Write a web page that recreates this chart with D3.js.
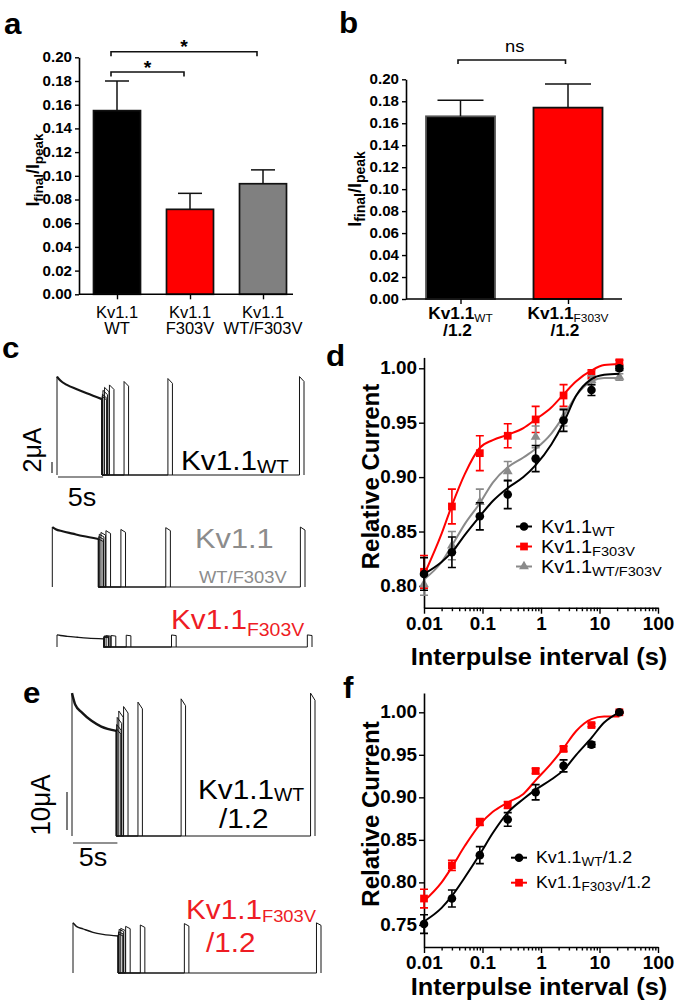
<!DOCTYPE html>
<html><head><meta charset="utf-8">
<script src="https://cdn.jsdelivr.net/npm/d3@7"></script>
<style>body{margin:0;background:#fff}svg{display:block}</style>
</head><body>
<svg id="fig" width="675" height="1008"></svg>
<script>
// ================= DATA =================
// Panel a
const catsA = ["WT", "F303V", "WT/F303V"];
const valuesA = [0.155, 0.0717, 0.0933];
const errorsA = [0.025, 0.0135, 0.0117];
const ticksA = [0, 0.02, 0.04, 0.06, 0.08, 0.10, 0.12, 0.14, 0.16, 0.18, 0.20];
const sigA = [{from: "WT", to: "WT/F303V", label: "*"}, {from: "WT", to: "F303V", label: "*"}];
// Panel b
const catsB = ["WT", "F303V"];
const valuesB = [0.1663, 0.1742];
const errorsB = [0.0147, 0.0215];
const ticksB = [0, 0.02, 0.04, 0.06, 0.08, 0.10, 0.12, 0.14, 0.16, 0.18, 0.20];
const sigB = [{from: "WT", to: "F303V", label: "ns"}];
// Panels d / f : recovery from inactivation
const intervals = [0.01, 0.03, 0.09, 0.27, 0.81, 2.43, 7.29, 21.87];
const dWT = [0.811, 0.831, 0.864, 0.884, 0.917, 0.952, 0.980, 1.000];
const dWTerr = [0.015, 0.014, 0.0125, 0.013, 0.012, 0.010, 0.005, 0.002];
const dF303V = [0.813, 0.873, 0.922, 0.938, 0.953, 0.975, 0.9945, 1.0055];
const dF303Verr = [0.015, 0.016, 0.016, 0.011, 0.012, 0.010, 0.004, 0.002];
const dHet = [0.8015, 0.837, 0.877, 0.9053, 0.937, 0.955, 0.989, 0.992];
const dHetErr = [0.010, 0.013, 0.012, 0.009, 0.010, 0.008, 0.004, 0.003];
const fitX = [0.01, 0.02, 0.03, 0.05, 0.09, 0.15, 0.27, 0.5, 0.81, 1.5, 2.43, 4, 7.29, 12, 21.87];
const dWTfit = [0.811, 0.822, 0.831, 0.847, 0.864, 0.878, 0.890, 0.900, 0.911, 0.930, 0.950, 0.975, 0.990, 0.994, 0.995];
const dF303Vfit = [0.810, 0.848, 0.874, 0.903, 0.927, 0.934, 0.939, 0.945, 0.953, 0.964, 0.976, 0.988, 0.998, 1.003, 1.004];
const dHetFit = [0.806, 0.822, 0.837, 0.857, 0.876, 0.895, 0.909, 0.918, 0.926, 0.940, 0.956, 0.975, 0.988, 0.991, 0.991];
const fWT = [0.751, 0.781, 0.832, 0.874, 0.906, 0.937, 0.962, 1.000];
const fWTerr = [0.011, 0.010, 0.010, 0.008, 0.009, 0.007, 0.003, 0.001];
const fF303V = [0.781, 0.820, 0.871, 0.891, 0.931, 0.957, 0.985, 1.000];
const fF303Verr = [0.011, 0.006, 0.004, 0.004, 0.003, 0.003, 0.002, 0.001];
const fWTfit = [0.754, 0.770, 0.784, 0.806, 0.833, 0.858, 0.882, 0.898, 0.909, 0.921, 0.932, 0.950, 0.970, 0.988, 1.000];
const fF303Vfit = [0.778, 0.800, 0.818, 0.843, 0.868, 0.883, 0.894, 0.904, 0.920, 0.940, 0.958, 0.978, 0.992, 0.995, 0.995];
const xTickLabels = ["0.01", "0.1", "1", "10", "100"];
const yTicksD = [0.80, 0.85, 0.90, 0.95, 1.00];
const yTicksF = [0.75, 0.80, 0.85, 0.90, 0.95, 1.00];
// Panels c / e : current traces (prepulse 5 s, test pulse 0.5 s after each interval)
const prepulseDur = 5, testDur = 0.5, testDecay = 0.95;
const decayT = [0, 0.37, 1.1, 2.2, 3.3, 5];
const tracesC = [
  {name: "WT", peakUA: 17.9, decay: [1, 0.959, 0.915, 0.871, 0.83, 0.77], test: [0.80, 0.82, 0.86, 0.89, 0.915, 0.95, 0.98, 1.0]},
  {name: "WT/F303V", peakUA: 10.9, decay: [1, 0.965, 0.93, 0.89, 0.85, 0.80], test: [0.80, 0.84, 0.88, 0.91, 0.94, 0.96, 0.99, 1.0]},
  {name: "F303V", peakUA: 2.2, decay: [1, 0.95, 0.88, 0.80, 0.73, 0.67], test: [0.81, 0.87, 0.92, 0.94, 0.95, 0.975, 0.995, 1.0]}
];
const tracesE = [
  {name: "WT/1.2", peakUA: 37.6, decay: [1, 0.918, 0.865, 0.806, 0.766, 0.736], test: [0.75, 0.78, 0.83, 0.875, 0.906, 0.937, 0.96, 1.0]},
  {name: "F303V/1.2", peakUA: 13.2, decay: [1, 0.93, 0.88, 0.81, 0.77, 0.74], test: [0.78, 0.82, 0.87, 0.89, 0.93, 0.957, 0.985, 1.0]}
];
const scaleBarC = {uA: 2, s: 5};
const scaleBarE = {uA: 10, s: 5};

// ================= STYLE / HELPERS =================
const FONT = "'Liberation Sans', Arial, Helvetica, sans-serif";
const SX = 1.08;
const RED = "#ff0000", GRAY = "#8a8a8a", TXTRED = "#ee1c24";
const svg = d3.select("#fig");
svg.append("rect").attr("width", 675).attr("height", 1008).attr("fill", "#fff");

function rich(g, x, y, parts, o) {
  const t = g.append("text")
    .attr("transform", `translate(${x},${y}) scale(${o.sx ?? SX},1)` + (o.rotate ? " rotate(-90)" : ""))
    .attr("text-anchor", o.anchor || "start")
    .attr("font-family", FONT).attr("font-size", o.size)
    .attr("font-weight", o.weight || "normal").attr("fill", o.color || "#000");
  let shift = 0;
  parts.forEach(p => {
    const seg = typeof p === "string" ? {t: p} : p;
    const s = t.append("tspan").text(seg.t);
    if (seg.size) s.attr("font-size", seg.size);
    if (seg.weight) s.attr("font-weight", seg.weight);
    const target = seg.dy || 0;
    if (target !== shift) { s.attr("dy", target - shift); shift = target; }
  });
  return t;
}
function styleAxis(g, size) {
  g.selectAll("path.domain").attr("stroke", "#000").attr("stroke-width", 1.6);
  g.selectAll(".tick line").attr("stroke", "#000").attr("stroke-width", 1.4);
  g.selectAll(".tick text").attr("font-family", FONT).attr("font-size", size)
    .attr("font-weight", "bold").attr("fill", "#000")
    .each(function () {
      const s = d3.select(this);
      const x = +s.attr("x") || 0, y = +s.attr("y") || 0;
      s.attr("x", 0).attr("y", 0).attr("transform", `translate(${x},${y}) scale(${SX},1)`);
    });
}
function panelLetter(x, y, l) {
  rich(svg, x, y, [l], {size: 29, weight: "bold"});
}

// ================= PANEL a =================
{
  const g = svg.append("g");
  const colors = ["#000000", RED, "#808080"];
  const x = d3.scalePoint().domain(catsA).range([117, 263]);
  const y = d3.scaleLinear().domain([0, 0.2]).range([294.3, 57.3]);
  const bw = 47;
  g.selectAll("rect.bar").data(catsA).join("rect")
    .attr("x", d => x(d) - bw / 2).attr("width", bw)
    .attr("y", (d, i) => y(valuesA[i])).attr("height", (d, i) => y(0) - y(valuesA[i]))
    .attr("fill", (d, i) => colors[i]).attr("stroke", "#111").attr("stroke-width", 1.7);
  const eb = g.selectAll("g.err").data(catsA).join("g").attr("stroke", "#111").attr("stroke-width", 1.5);
  eb.append("line").attr("x1", d => x(d)).attr("x2", d => x(d))
    .attr("y1", (d, i) => y(valuesA[i])).attr("y2", (d, i) => y(valuesA[i] + errorsA[i]));
  eb.append("line").attr("x1", d => x(d) - 12).attr("x2", d => x(d) + 12)
    .attr("y1", (d, i) => y(valuesA[i] + errorsA[i])).attr("y2", (d, i) => y(valuesA[i] + errorsA[i]));
  g.append("g").attr("transform", "translate(79,0)")
    .call(d3.axisLeft(y).tickValues(ticksA).tickFormat(d3.format(".2f")).tickSize(4).tickSizeOuter(0).tickPadding(3))
    .call(gg => styleAxis(gg, 14));
  const xa = g.append("g").attr("transform", `translate(0,${y(0)})`)
    .call(d3.axisBottom(x).tickSize(5).tickSizeOuter(0).tickFormat(""));
  xa.select("path.domain").attr("d", `M79,0H293`);
  styleAxis(xa, 14);
  catsA.forEach(c => {
    rich(g, x(c), 318, ["Kv1.1"], {size: 16.5, anchor: "middle", sx: 1.0});
    rich(g, x(c), 334, [c], {size: 16.5, anchor: "middle", sx: 1.0});
  });
  const levels = [51.7, 72];
  sigA.forEach((s, i) => {
    const x1 = x(s.from) - 6, x2 = x(s.to) - 6, yy = levels[i];
    g.append("path").attr("d", `M${x1},${yy + 4.5}V${yy}H${x2}V${yy + 4.5}`)
      .attr("fill", "none").attr("stroke", "#111").attr("stroke-width", 1.6);
    rich(g, (x1 + x2) / 2, yy + 1.5, [s.label], {size: 18, weight: "bold", anchor: "middle"});
  });
  rich(g, 39, 170, ["I", {t: "final", size: 13.5, dy: 4}, {t: "/I", dy: 0}, {t: "peak", size: 13.5, dy: 4}],
    {size: 17.5, weight: "bold", anchor: "middle", rotate: true, sx: 1.0});
  panelLetter(4, 34, "a");
}

// ================= PANEL b =================
{
  const g = svg.append("g");
  const x = d3.scalePoint().domain(catsB).range([460.5, 568]);
  const y = d3.scaleLinear().domain([0, 0.2]).range([299, 79.3]);
  const bw = 69;
  const fills = ["#000000", RED], strokes = ["#555", "#111"];
  g.selectAll("rect.bar").data(catsB).join("rect")
    .attr("x", d => x(d) - bw / 2).attr("width", bw)
    .attr("y", (d, i) => y(valuesB[i])).attr("height", (d, i) => y(0) - y(valuesB[i]))
    .attr("fill", (d, i) => fills[i]).attr("stroke", (d, i) => strokes[i]).attr("stroke-width", 1.8);
  const eb = g.selectAll("g.err").data(catsB).join("g").attr("stroke", "#111").attr("stroke-width", 1.5);
  eb.append("line").attr("x1", d => x(d)).attr("x2", d => x(d))
    .attr("y1", (d, i) => y(valuesB[i])).attr("y2", (d, i) => y(valuesB[i] + errorsB[i]));
  eb.append("line").attr("x1", d => x(d) - 23).attr("x2", d => x(d) + 23)
    .attr("y1", (d, i) => y(valuesB[i] + errorsB[i])).attr("y2", (d, i) => y(valuesB[i] + errorsB[i]));
  g.append("g").attr("transform", "translate(406,0)")
    .call(d3.axisLeft(y).tickValues(ticksB).tickFormat(d3.format(".2f")).tickSize(4).tickSizeOuter(0).tickPadding(3))
    .call(gg => styleAxis(gg, 14));
  const xa = g.append("g").attr("transform", `translate(0,${y(0)})`)
    .call(d3.axisBottom(x).tickSize(5).tickSizeOuter(0).tickFormat(""));
  xa.select("path.domain").attr("d", `M406,0H622`);
  styleAxis(xa, 14);
  catsB.forEach(c => {
    rich(g, x(c), 319, ["Kv1.1", {t: c.split("/")[0], size: 11, weight: "normal", dy: 3}], {size: 16, weight: "bold", anchor: "middle"});
    rich(g, x(c) - 3, 336, ["/1.2"], {size: 16, weight: "bold", anchor: "middle"});
  });
  sigB.forEach(s => {
    const x1 = x(s.from) - 2.5, x2 = x(s.to) - 2.5, yy = 60;
    g.append("path").attr("d", `M${x1},${yy + 4}V${yy}H${x2}V${yy + 4}`)
      .attr("fill", "none").attr("stroke", "#111").attr("stroke-width", 1.6);
    rich(g, (x1 + x2) / 2 + 3, 52, [s.label], {size: 17, anchor: "middle"});
  });
  rich(g, 361, 189, ["I", {t: "final", size: 14, dy: 4}, {t: "/I", dy: 0}, {t: "peak", size: 14, dy: 4}],
    {size: 18, weight: "bold", anchor: "middle", rotate: true, sx: 1.0});
  panelLetter(339, 33, "b");
}

// ================= TRACES (c, e) =================
const tEnd = prepulseDur + intervals[intervals.length - 1] + testDur;
function drawTrace(g, tr, lay, pxPerUA, decayW) {
  const x = d3.scaleLinear().domain([0, tEnd]).range([lay.x0, lay.x1]);
  const y = d3.scaleLinear().domain([0, tr.peakUA]).range([lay.base, lay.base - tr.peakUA * pxPerUA]);
  const lin = d3.line().x(d => x(d[0])).y(d => y(d[1] * tr.peakUA));
  const smooth = d3.line().x(d => x(d[0])).y(d => y(d[1] * tr.peakUA)).curve(d3.curveMonotoneX);
  const tg = g.append("g").attr("fill", "none").attr("stroke", "#151515").attr("stroke-linejoin", "miter");
  tg.append("path").attr("d", lin([[0, 0], [0, tr.decay[0]]])).attr("stroke-width", 1);
  tg.append("path").attr("d", smooth(decayT.map((t, i) => [t, tr.decay[i]]))).attr("stroke-width", decayW);
  const endLevel = tr.decay[tr.decay.length - 1];
  intervals.forEach((dt, k) => {
    const a = tr.test[k];
    const t0 = prepulseDur + dt;
    tg.append("path").attr("stroke-width", 1)
      .attr("d", lin([[prepulseDur, endLevel], [prepulseDur, 0], [t0, 0], [t0, a], [t0 + testDur, a * testDecay], [t0 + testDur, 0]]));
  });
  return x;
}
// ---- panel c
{
  const g = svg.append("g");
  const pxPerUA = 5.5;
  const lays = [{x0: 57, x1: 304, base: 475}, {x0: 52.3, x1: 305, base: 587}, {x0: 57, x1: 312, base: 647}];
  const widths = [2.2, 2.2, 1.4];
  let xs0;
  tracesC.forEach((tr, i) => { const xs = drawTrace(g, tr, lays[i], pxPerUA, widths[i]); if (i === 0) xs0 = xs; });
  const sbx = 52, sby = 473;
  g.append("line").attr("x1", sbx).attr("x2", sbx).attr("y1", sby).attr("y2", sby - scaleBarC.uA * pxPerUA)
    .attr("stroke", "#222").attr("stroke-width", 1.2);
  const hx0 = 58;
  g.append("line").attr("x1", hx0).attr("x2", hx0 + xs0(scaleBarC.s) - xs0(0)).attr("y1", 477).attr("y2", 477)
    .attr("stroke", "#222").attr("stroke-width", 1.2);
  rich(g, 41, 450, [scaleBarC.uA + "μA"], {size: 25, anchor: "middle", rotate: true, sx: 1.05});
  rich(g, 82, 506, [scaleBarC.s + "s"], {size: 25, anchor: "middle"});
  rich(g, 181, 470, ["Kv1.1", {t: "WT", size: 19, dy: 3}], {size: 27.5});
  rich(g, 195, 548, ["Kv1.1"], {size: 28.5, color: "#8c8c8c"});
  rich(g, 199, 583, ["WT/F303V"], {size: 17, color: "#8c8c8c"});
  rich(g, 171, 629, ["Kv1.1", {t: "F303V", size: 18, dy: 7}], {size: 27.5, color: TXTRED});
  panelLetter(2, 358, "c");
}
// ---- panel e
{
  const g = svg.append("g");
  const pxPerUA = 3.8;
  const lays = [{x0: 72, x1: 315, base: 836}, {x0: 73, x1: 321, base: 973}];
  const widths = [2.4, 1.5];
  let xs0;
  tracesE.forEach((tr, i) => { const xs = drawTrace(g, tr, lays[i], pxPerUA, widths[i]); if (i === 0) xs0 = xs; });
  const sbx = 67, sby = 830;
  g.append("line").attr("x1", sbx).attr("x2", sbx).attr("y1", sby).attr("y2", sby - scaleBarE.uA * pxPerUA)
    .attr("stroke", "#222").attr("stroke-width", 1.2);
  const hx0 = 73;
  g.append("line").attr("x1", hx0).attr("x2", hx0 + xs0(scaleBarE.s) - xs0(0)).attr("y1", 843).attr("y2", 843)
    .attr("stroke", "#222").attr("stroke-width", 1.2);
  rich(g, 50, 805, [scaleBarE.uA + "μA"], {size: 26, anchor: "middle", rotate: true, sx: 1.05});
  rich(g, 93, 866, [scaleBarE.s + "s"], {size: 25, anchor: "middle"});
  rich(g, 198, 799, ["Kv1.1", {t: "WT", size: 18, dy: 2}], {size: 27.5});
  rich(g, 219, 828, ["/1.2"], {size: 27.5});
  rich(g, 186, 919, ["Kv1.1", {t: "F303V", size: 17, dy: 3}], {size: 27.5, color: TXTRED});
  rich(g, 206, 952, ["/1.2"], {size: 27.5, color: TXTRED});
  panelLetter(23, 703, "e");
}

// ================= RECOVERY PLOTS (d, f) =================
function recoveryPanel(cfg) {
  const g = svg.append("g");
  const x = d3.scaleLog().domain([0.01, 100]).range([424, 658]);
  const y = d3.scaleLinear().domain(cfg.yDomain).range(cfg.yRange);
  const yAxisG = g.append("g").attr("transform", "translate(424,0)")
    .call(d3.axisLeft(y).tickValues(cfg.yTicks).tickFormat(d3.format(".2f")).tickSize(5).tickSizeOuter(0).tickPadding(2));
  styleAxis(yAxisG, 17.5);
  const decades = [0.01, 0.1, 1, 10, 100];
  const xAxisG = g.append("g").attr("transform", `translate(0,${cfg.yRange[0]})`)
    .call(d3.axisBottom(x).tickValues(x.ticks())
      .tickFormat(d => { const k = decades.findIndex(v => Math.abs(v - d) < 1e-9); return k >= 0 ? xTickLabels[k] : ""; })
      .tickSize(6).tickSizeOuter(0).tickPadding(4));
  xAxisG.selectAll(".tick").filter(d => !decades.some(v => Math.abs(v - d) < 1e-9)).select("line").attr("y2", 3.5);
  styleAxis(xAxisG, 17.5);
  const line = d3.line().x(d => x(d[0])).y(d => y(d[1])).curve(d3.curveMonotoneX);
  cfg.series.forEach(s => {
    const sg = g.append("g");
    sg.append("path").attr("d", line(fitX.map((v, i) => [v, s.fit[i]])))
      .attr("fill", "none").attr("stroke", s.color).attr("stroke-width", 2);
    intervals.forEach((t, i) => {
      const lo = y(s.vals[i] - s.err[i]), hi = y(s.vals[i] + s.err[i]);
      sg.append("path").attr("d", `M${x(t)},${lo}V${hi}M${x(t) - 4},${lo}H${x(t) + 4}M${x(t) - 4},${hi}H${x(t) + 4}`)
        .attr("stroke", s.color).attr("stroke-width", 1.6).attr("fill", "none");
    });
    sg.selectAll("path.pt").data(intervals).join("path")
      .attr("transform", (t, i) => `translate(${x(t)},${y(s.vals[i])})`)
      .attr("d", d3.symbol().type(s.shape).size(s.size)).attr("fill", s.color);
  });
  cfg.legend.rows.forEach((r, i) => {
    const ly = cfg.legend.y0 + i * cfg.legend.dy;
    g.append("line").attr("x1", cfg.legend.x0).attr("x2", cfg.legend.x0 + 16).attr("y1", ly).attr("y2", ly)
      .attr("stroke", r.color).attr("stroke-width", 2);
    g.append("path").attr("transform", `translate(${cfg.legend.x0 + 8},${ly})`)
      .attr("d", d3.symbol().type(r.shape).size(r.size)).attr("fill", r.color);
    rich(g, cfg.legend.tx, ly + cfg.legend.base, r.parts, {size: cfg.legend.size, color: "#000"});
  });
  rich(g, 379, (cfg.yRange[0] + cfg.yRange[1]) / 2 - 6, ["Relative Current"], {size: 24, weight: "bold", anchor: "middle", rotate: true, sx: 1.0});
  rich(g, 539, cfg.titleY, ["Interpulse interval (s)"], {size: 23.5, weight: "bold", anchor: "middle"});
}
const sWT = {color: "#000", shape: d3.symbolCircle, size: 58};
const sRed = {color: RED, shape: d3.symbolSquare, size: 60};
const sGray = {color: GRAY, shape: d3.symbolTriangle, size: 42};
recoveryPanel({
  yDomain: [0.78, 1.01], yRange: [607.7, 357.4], yTicks: yTicksD, titleY: 665,
  series: [
    {...sRed, vals: dF303V, err: dF303Verr, fit: dF303Vfit},
    {...sGray, vals: dHet, err: dHetErr, fit: dHetFit},
    {...sWT, vals: dWT, err: dWTerr, fit: dWTfit}
  ],
  legend: {x0: 516, y0: 526.5, dy: 20, tx: 541, base: 6.5, size: 18.5, rows: [
    {...sWT, parts: ["Kv1.1", {t: "WT", size: 13.5, dy: 3}]},
    {...sRed, parts: ["Kv1.1", {t: "F303V", size: 13.5, dy: 3}]},
    {...sGray, parts: ["Kv1.1", {t: "WT/F303V", size: 13.5, dy: 3}]}
  ]}
});
recoveryPanel({
  yDomain: [0.724, 1.0227], yRange: [947, 693], yTicks: yTicksF, titleY: 995,
  series: [
    {...sRed, vals: fF303V, err: fF303Verr, fit: fF303Vfit},
    {...sWT, vals: fWT, err: fWTerr, fit: fWTfit}
  ],
  legend: {x0: 511, y0: 857.7, dy: 25, tx: 536, base: 5.5, size: 16.5, rows: [
    {...sWT, parts: ["Kv1.1", {t: "WT", size: 12.5, dy: 3}, {t: "/1.2", dy: 0}]},
    {...sRed, parts: ["Kv1.1", {t: "F303V", size: 12.5, dy: 3}, {t: "/1.2", dy: 0}]}
  ]}
});
panelLetter(326, 366, "d");
panelLetter(343, 698, "f");
</script>
</body></html>
